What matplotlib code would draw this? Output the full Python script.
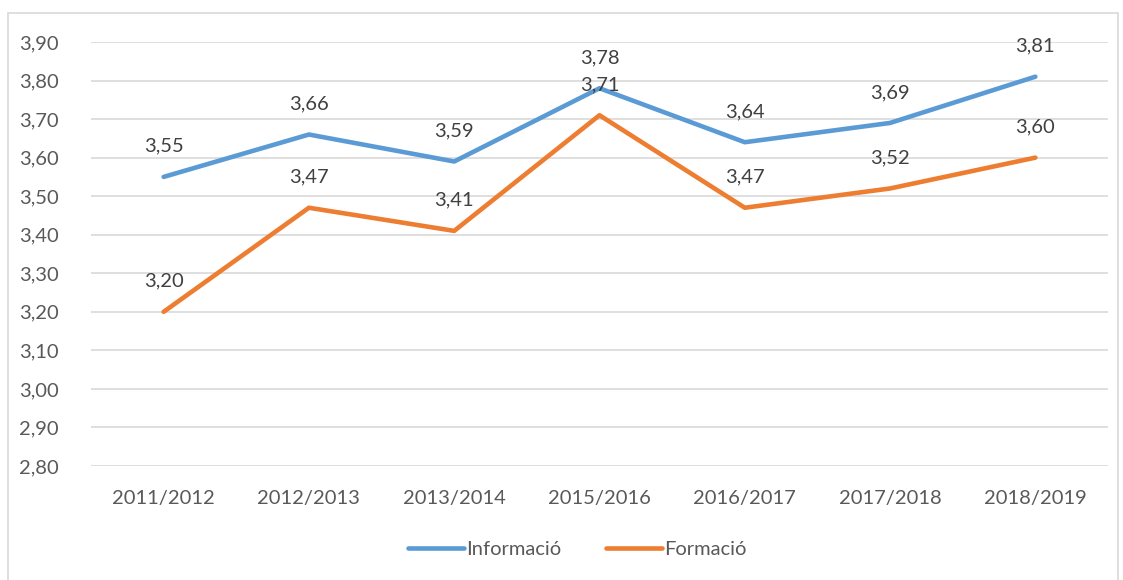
import matplotlib.pyplot as plt
from matplotlib.patches import Rectangle
from matplotlib.lines import Line2D

# data
cursos = ["2011/2012", "2012/2013", "2013/2014", "2015/2016", "2016/2017", "2017/2018", "2018/2019"]
informacio = [3.55, 3.66, 3.59, 3.78, 3.64, 3.69, 3.81]
formacio = [3.20, 3.47, 3.41, 3.71, 3.47, 3.52, 3.60]
y_ticks = [2.80, 2.90, 3.00, 3.10, 3.20, 3.30, 3.40, 3.50, 3.60, 3.70, 3.80, 3.90]

blue = "#5B9BD5"
orange = "#ED7D31"
text_col = "#595959"
grid_col = "#D9D9D9"

plt.rcParams['font.family'] = ['Lato', 'DejaVu Sans']

fig = plt.figure(figsize=(11.23, 5.80), dpi=100)
W, H = 1123, 580

# outer chart border
fig.patches.append(Rectangle((8 / W, -0.01), (1118 - 8) / W, (H - 13) / H + 0.01,
                             transform=fig.transFigure, fill=False,
                             edgecolor=grid_col, linewidth=1.2))

ax = fig.add_axes([91 / W, 1 - 466 / H, (1108 - 91) / W, (466 - 42) / H])

x = list(range(len(cursos)))
ax.plot(x, informacio, color=blue, linewidth=3.3, solid_capstyle='round', zorder=3)
ax.plot(x, formacio, color=orange, linewidth=3.3, solid_capstyle='round', zorder=3)

for series in (informacio, formacio):
    for xi, v in zip(x, series):
        ax.annotate(f"{v:.2f}".replace(".", ","), (xi, v), xytext=(0, 22),
                    textcoords='offset points', ha='center', va='center',
                    fontsize=14.5, color="#404040", zorder=4)

ax.set_xlim(-0.5, len(cursos) - 0.5)
ax.set_ylim(2.80, 3.90)
ax.set_yticks(y_ticks)
ax.set_yticklabels([f"{t:.2f}".replace(".", ",") for t in y_ticks])
ax.set_xticks(x)
ax.set_xticklabels(cursos)
ax.tick_params(axis='both', length=0, labelsize=14.5, labelcolor=text_col)
ax.tick_params(axis='y', pad=23)
ax.tick_params(axis='x', pad=17)
ax.grid(axis='y', color=grid_col, linewidth=1.2)
ax.set_axisbelow(True)
for s in ax.spines.values():
    s.set_visible(False)

handles = [Line2D([], [], color=blue, linewidth=3.3, solid_capstyle='round'),
           Line2D([], [], color=orange, linewidth=3.3, solid_capstyle='round')]
fig.legend(handles, ["Informació", "Formació"], loc='center', bbox_to_anchor=(577 / W, 1 - 549 / H),
           ncol=2, frameon=False, fontsize=14.5, labelcolor=text_col,
           handlelength=2.8, handletextpad=0.1, columnspacing=2.2)

fig.savefig("out.png", dpi=100)
